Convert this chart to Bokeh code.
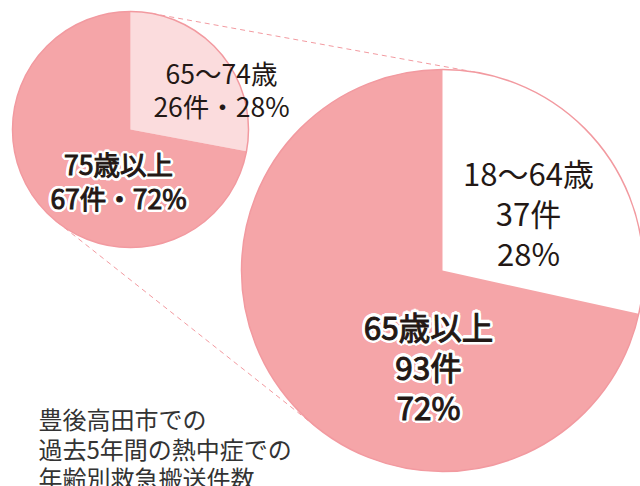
import math
from bokeh.plotting import figure
from bokeh.models import Range1d, ColumnDataSource
from bokeh.core.properties import value
from bokeh.embed import file_html
from bokeh.resources import INLINE

# ---- data ----
big_labels = ["18〜64歳", "65歳以上"]
big_counts = [37, 93]
big_pcts = [28, 72]
small_labels = ["65〜74歳", "75歳以上"]
small_counts = [26, 67]
small_pcts = [28, 72]
title_lines = ["豊後高田市での", "過去5年間の熱中症での", "年齢別救急搬送件数"]

# ---- layout / style ----
W, H = 640, 486
FONT = value("Noto Sans CJK JP")
PINK = "#f5a5a8"
LIGHT = "#fbdcdd"
EDGE = "#f29aa0"
TXT = "#231815"

big_c, big_r = (442, H - 270), 201
small_c, small_r = (130, H - 129), 118

p = figure(width=W, height=H, x_range=Range1d(0, W), y_range=Range1d(0, H),
           output_backend="svg", toolbar_location=None, min_border=0,
           x_axis_location=None, y_axis_location=None)
p.grid.visible = False
p.outline_line_color = None
p.background_fill_color = "white"
p.border_fill_color = "white"


# dashed external tangents connecting the two pies
def tangents(c1, r1, c2, r2):
    dx, dy = c2[0] - c1[0], c2[1] - c1[1]
    d = math.hypot(dx, dy)
    a = math.atan2(dy, dx)
    t = math.acos((r2 - r1) / d)
    segs = []
    for phi in (a + t, a - t):
        nx, ny = math.cos(phi), math.sin(phi)
        segs.append(([c1[0] - r1 * nx, c2[0] - r2 * nx], [c1[1] - r1 * ny, c2[1] - r2 * ny]))
    return segs


for xs, ys in tangents(small_c, small_r, big_c, big_r):
    p.line(xs, ys, line_color=EDGE, line_width=1, line_dash="5 4")


def pie(center, r, counts, colors):
    total = sum(counts)
    starts, ends = [], []
    ang = math.pi / 2
    for c in counts:
        starts.append(ang)
        ang -= 2 * math.pi * c / total
        ends.append(ang)
    src = ColumnDataSource(dict(x=[center[0]] * len(counts), y=[center[1]] * len(counts),
                                s=starts, e=ends, color=colors))
    p.wedge(x="x", y="y", radius=r, start_angle="s", end_angle="e", direction="clock",
            fill_color="color", line_color=None, source=src)
    p.circle(x=[center[0]], y=[center[1]], radius=r, fill_color=None,
             line_color=EDGE, line_width=1.5)


pie(small_c, small_r, small_counts, [LIGHT, PINK])
pie(big_c, big_r, big_counts, ["white", PINK])


def label(cx, cy, lines, size, spacing, halo):
    n = len(lines)
    ys = [cy + spacing * ((n - 1) / 2 - i) for i in range(n)]
    xs = [cx] * n
    common = dict(text_font=FONT, text_font_size=f"{size}px", text_align="center",
                  text_baseline="middle")
    if halo:
        k = 16
        for j in range(k):
            a = 2 * math.pi * j / k
            p.text(x=xs, y=ys, text=lines, text_color="white",
                   x_offset=3.2 * math.cos(a), y_offset=3.2 * math.sin(a), **common)
        p.text(x=xs, y=ys, text=lines, text_color=TXT, text_outline_color=TXT, **common)
    else:
        p.text(x=xs, y=ys, text=lines, text_color=TXT, **common)


big_txt = [[big_labels[i], f"{big_counts[i]}件", f"{big_pcts[i]}%"] for i in range(2)]
small_txt = [[small_labels[i], f"{small_counts[i]}件・{small_pcts[i]}%"] for i in range(2)]

label(big_c[0] + 86, big_c[1] + 58, big_txt[0], 31, 40, False)
label(big_c[0] - 14, big_c[1] - 95, big_txt[1], 31.5, 40, True)
label(small_c[0] + 91, small_c[1] + 41, small_txt[0], 26.5, 33, False)
label(small_c[0] - 12, small_c[1] - 51, small_txt[1], 26.5, 34, True)

# caption
cap_y0 = H - 418
p.text(x=[38] * len(title_lines), y=[cap_y0 - 29.5 * i for i in range(len(title_lines))],
       text=title_lines, text_font=FONT, text_font_size="24px", text_align="left",
       text_baseline="middle", text_color="#333333")

open("out.html", "w").write(file_html(p, INLINE))
